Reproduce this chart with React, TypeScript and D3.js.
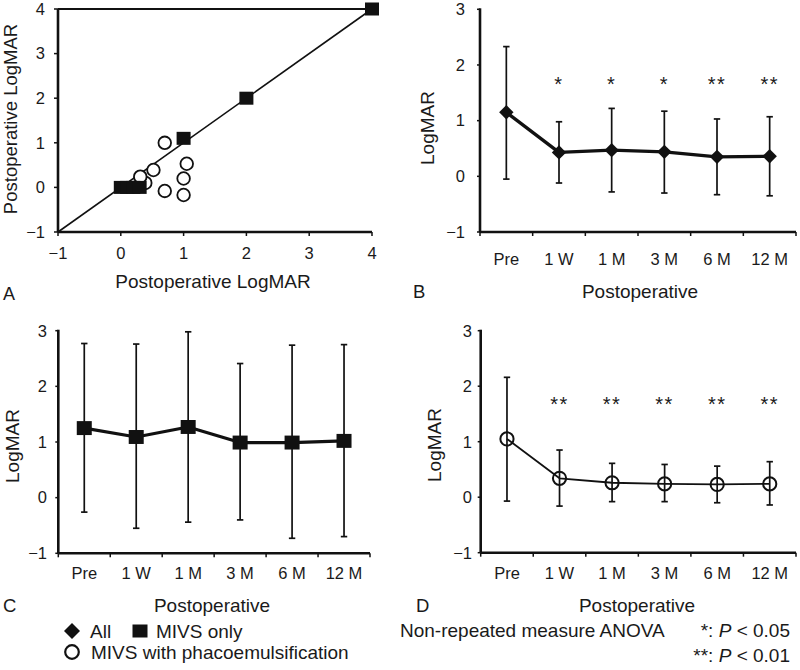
import React from "react";
import * as d3 from "d3";

// ---------- data ----------
const categories = ["Pre", "1 W", "1 M", "3 M", "6 M", "12 M"];

// Panel A scatter (pre vs post LogMAR)
const mivsOnlyX = [0, 0.1, 0.2, 0.3, 1.0, 2.0, 4.0];
const mivsOnlyY = [0, 0, 0, 0, 1.1, 2.0, 4.0];
const phacoX = [0.7, 0.52, 1.05, 1.0, 1.0, 0.7, 0.39, 0.31];
const phacoY = [1.0, 0.39, 0.53, 0.2, -0.17, -0.08, 0.1, 0.24];
const scatterTicks = [-1, 0, 1, 2, 3, 4];

// Panel B: All
const allMean = [1.15, 0.43, 0.47, 0.44, 0.35, 0.36];
const allUpper = [2.33, 0.98, 1.22, 1.17, 1.03, 1.07];
const allLower = [-0.05, -0.12, -0.28, -0.3, -0.33, -0.35];
const allSig = ["", "*", "*", "*", "**", "**"];

// Panel C: MIVS only
const mivsMean = [1.25, 1.09, 1.27, 0.99, 0.99, 1.02];
const mivsUpper = [2.77, 2.76, 2.98, 2.41, 2.74, 2.75];
const mivsLower = [-0.26, -0.55, -0.44, -0.4, -0.73, -0.7];
const mivsSig = ["", "", "", "", "", ""];

// Panel D: MIVS with phacoemulsification
const phacoMean = [1.05, 0.34, 0.26, 0.24, 0.23, 0.24];
const phacoUpper = [2.16, 0.85, 0.61, 0.59, 0.56, 0.64];
const phacoLower = [-0.07, -0.16, -0.08, -0.08, -0.1, -0.14];
const phacoSig = ["", "**", "**", "**", "**", "**"];

const lineTicks = [-1, 0, 1, 2, 3];

const FONT = "'Liberation Sans', Arial, Helvetica, sans-serif";
const TXT = "#1a1a1a";
const fmt = (v: number) => (v < 0 ? "\u2212" + Math.abs(v) : String(v));

function Marker({ type, x, y, s }: { type: string; x: number; y: number; s: number }) {
  if (type === "diamond")
    return <path d={`M${x},${y - s}L${x + s},${y}L${x},${y + s}L${x - s},${y}Z`} fill="#111" />;
  if (type === "square")
    return <rect x={x - s} y={y - s * 0.93} width={2 * s} height={2 * s * 0.93} fill="#111" />;
  return <circle cx={x} cy={y} r={s} fill="none" stroke="#111" strokeWidth={2} />;
}

function ScatterPanel() {
  const x = d3.scaleLinear().domain([-1, 4]).range([58, 372]);
  const y = d3.scaleLinear().domain([-1, 4]).range([232, 9]);
  const diag = d3.line<number>().x((d) => x(d)).y((d) => y(d));
  return (
    <g>
      <path d={diag([-1, 4]) || ""} stroke="#111" strokeWidth={1.6} fill="none" />
      <line x1={x(-1)} x2={x(4)} y1={y(4)} y2={y(4)} stroke="#111" strokeWidth={2.2} />
      <line x1={x(-1)} x2={x(-1)} y1={y(-1)} y2={y(4)} stroke="#111" strokeWidth={2.6} />
      <line x1={x(-1)} x2={x(4)} y1={y(-1)} y2={y(-1)} stroke="#111" strokeWidth={2.6} />
      {scatterTicks.map((t) => (
        <g key={"y" + t}>
          <line x1={x(-1) - 4} x2={x(-1)} y1={y(t)} y2={y(t)} stroke="#111" strokeWidth={1.5} />
          <text x={45} y={y(t) + 5.8} textAnchor="end" fontSize={16.5} fontFamily={FONT} fill={TXT}>
            {fmt(t)}
          </text>
        </g>
      ))}
      {scatterTicks.map((t) => (
        <g key={"x" + t}>
          <line x1={x(t)} x2={x(t)} y1={y(-1)} y2={y(-1) + 4} stroke="#111" strokeWidth={1.5} />
          <text x={x(t)} y={259} textAnchor="middle" fontSize={16.5} fontFamily={FONT} fill={TXT}>
            {fmt(t)}
          </text>
        </g>
      ))}
      {phacoX.map((v, i) => (
        <circle key={"c" + i} cx={x(v)} cy={y(phacoY[i])} r={6.3} fill="#fff" stroke="#111" strokeWidth={1.8} />
      ))}
      {mivsOnlyX.map((v, i) => (
        <rect key={"s" + i} x={x(v) - 7} y={y(mivsOnlyY[i]) - 6.5} width={14} height={13} fill="#111" />
      ))}
      <text x={213} y={288} textAnchor="middle" fontSize={19} fontFamily={FONT} fill={TXT}>
        Postoperative LogMAR
      </text>
      <text transform="translate(16.5,119) rotate(-90)" textAnchor="middle" fontSize={18.5} fontFamily={FONT} fill={TXT}>
        Postoperative LogMAR
      </text>
      <text x={3} y={300} fontSize={18} fontFamily={FONT} fill={TXT}>A</text>
    </g>
  );
}

type PanelProps = {
  x0: number; x1: number; yTop: number; yBottom: number;
  mean: number[]; upper: number[]; lower: number[]; sig: string[];
  marker: string; markerSize: number; lineWidth: number;
  tickLabelRight: number; tickBaseline: number;
  titleX: number; titleY: number; yTitleX: number; yTitleY: number;
  letter: string; letterX: number; sigY: number;
};

function LinePanel(p: PanelProps) {
  const xb = d3.scaleBand().domain(categories).range([p.x0, p.x1]);
  const bw = xb.bandwidth();
  const cx = (c: string) => (xb(c) as number) + bw / 2;
  const y = d3.scaleLinear().domain([-1, 3]).range([p.yBottom, p.yTop]);
  const line = d3.line<number>().x((_, i) => cx(categories[i])).y((d) => y(d));
  const bounds = d3.range(categories.length + 1).map((i) => p.x0 + i * bw);
  return (
    <g>
      {/* axes */}
      <line x1={p.x0} x2={p.x0} y1={y(3) - 1} y2={y(-1)} stroke="#111" strokeWidth={2.6} />
      <line x1={p.x0} x2={p.x1} y1={y(-1)} y2={y(-1)} stroke="#111" strokeWidth={2.6} />
      {lineTicks.map((t) => (
        <g key={"yt" + t}>
          <line x1={p.x0 - 3} x2={p.x0} y1={y(t)} y2={y(t)} stroke="#111" strokeWidth={1.5} />
          <text x={p.tickLabelRight} y={y(t) + 5.8} textAnchor="end" fontSize={16.5} fontFamily={FONT} fill={TXT}>
            {fmt(t)}
          </text>
        </g>
      ))}
      {bounds.map((b, i) => (
        <line key={"xt" + i} x1={b} x2={b} y1={y(-1)} y2={y(-1) + 4} stroke="#111" strokeWidth={1.5} />
      ))}
      {categories.map((c) => (
        <text key={"xl" + c} x={cx(c)} y={p.tickBaseline} textAnchor="middle" fontSize={16.5} fontFamily={FONT} fill={TXT}>
          {c}
        </text>
      ))}
      {/* error bars */}
      {categories.map((c, i) => (
        <g key={"eb" + c} stroke="#111" strokeWidth={1.7}>
          <line x1={cx(c)} x2={cx(c)} y1={y(p.upper[i])} y2={y(p.lower[i])} />
          <line x1={cx(c) - 3.2} x2={cx(c) + 3.2} y1={y(p.upper[i])} y2={y(p.upper[i])} />
          <line x1={cx(c) - 3.2} x2={cx(c) + 3.2} y1={y(p.lower[i])} y2={y(p.lower[i])} />
        </g>
      ))}
      <path d={line(p.mean) || ""} fill="none" stroke="#111" strokeWidth={p.lineWidth} strokeLinejoin="round" />
      {categories.map((c, i) => (
        <Marker key={"m" + c} type={p.marker} x={cx(c)} y={y(p.mean[i])} s={p.markerSize} />
      ))}
      {categories.map((c, i) =>
        p.sig[i] ? (
          <text key={"sig" + c} x={cx(c)} y={p.sigY} textAnchor="middle" fontSize={20} letterSpacing={1.5} fontFamily={FONT} fill={TXT}>
            {p.sig[i]}
          </text>
        ) : null
      )}
      <text x={p.titleX} y={p.titleY} textAnchor="middle" fontSize={19} fontFamily={FONT} fill={TXT}>
        Postoperative
      </text>
      <text transform={`translate(${p.yTitleX},${p.yTitleY}) rotate(-90)`} textAnchor="middle" fontSize={19} fontFamily={FONT} fill={TXT}>
        LogMAR
      </text>
      <text x={p.letterX} y={p.titleY} fontSize={18.5} fontFamily={FONT} fill={TXT}>{p.letter}</text>
    </g>
  );
}

export default function App() {
  return (
    <svg width={800} height={670} style={{ position: "absolute", left: 0, top: 0, background: "#fff" }}>
      <rect width={800} height={670} fill="#fff" />
      <ScatterPanel />
      <LinePanel
        x0={480} x1={796} yTop={9.3} yBottom={232}
        mean={allMean} upper={allUpper} lower={allLower} sig={allSig}
        marker="diamond" markerSize={7.2} lineWidth={3.4}
        tickLabelRight={465} tickBaseline={265}
        titleX={640} titleY={298} yTitleX={434} yTitleY={128}
        letter="B" letterX={413} sigY={90.5}
      />
      <LinePanel
        x0={58.3} x1={370} yTop={330.7} yBottom={553.3}
        mean={mivsMean} upper={mivsUpper} lower={mivsLower} sig={mivsSig}
        marker="square" markerSize={7.5} lineWidth={3.2}
        tickLabelRight={47} tickBaseline={579}
        titleX={212} titleY={612} yTitleX={19} yTitleY={446}
        letter="C" letterX={3} sigY={0}
      />
      <LinePanel
        x0={480.7} x1={796} yTop={330.7} yBottom={552.7}
        mean={phacoMean} upper={phacoUpper} lower={phacoLower} sig={phacoSig}
        marker="circle" markerSize={6.6} lineWidth={1.8}
        tickLabelRight={472} tickBaseline={579}
        titleX={637} titleY={612} yTitleX={441} yTitleY={445}
        letter="D" letterX={416} sigY={410.5}
      />
      {/* legend */}
      <g fontFamily={FONT} fontSize={19} fill={TXT}>
        <Marker type="diamond" x={72} y={631} s={8} />
        <text x={90} y={638}>All</text>
        <rect x={132.5} y={624.5} width={15} height={13} fill="#111" />
        <text x={156} y={638}>MIVS only</text>
        <circle cx={72} cy={652} r={6.8} fill="none" stroke="#111" strokeWidth={2.2} />
        <text x={91} y={659}>MIVS with phacoemulsification</text>
      </g>
      <g fontFamily={FONT} fontSize={19} fill={TXT}>
        <text x={400} y={637}>Non-repeated measure ANOVA</text>
        <text x={790} y={637} textAnchor="end">
          <tspan>*: </tspan>
          <tspan fontStyle="italic">P</tspan>
          <tspan> &lt; 0.05</tspan>
        </text>
        <text x={790} y={662} textAnchor="end">
          <tspan>**: </tspan>
          <tspan fontStyle="italic">P</tspan>
          <tspan> &lt; 0.01</tspan>
        </text>
      </g>
    </svg>
  );
}
